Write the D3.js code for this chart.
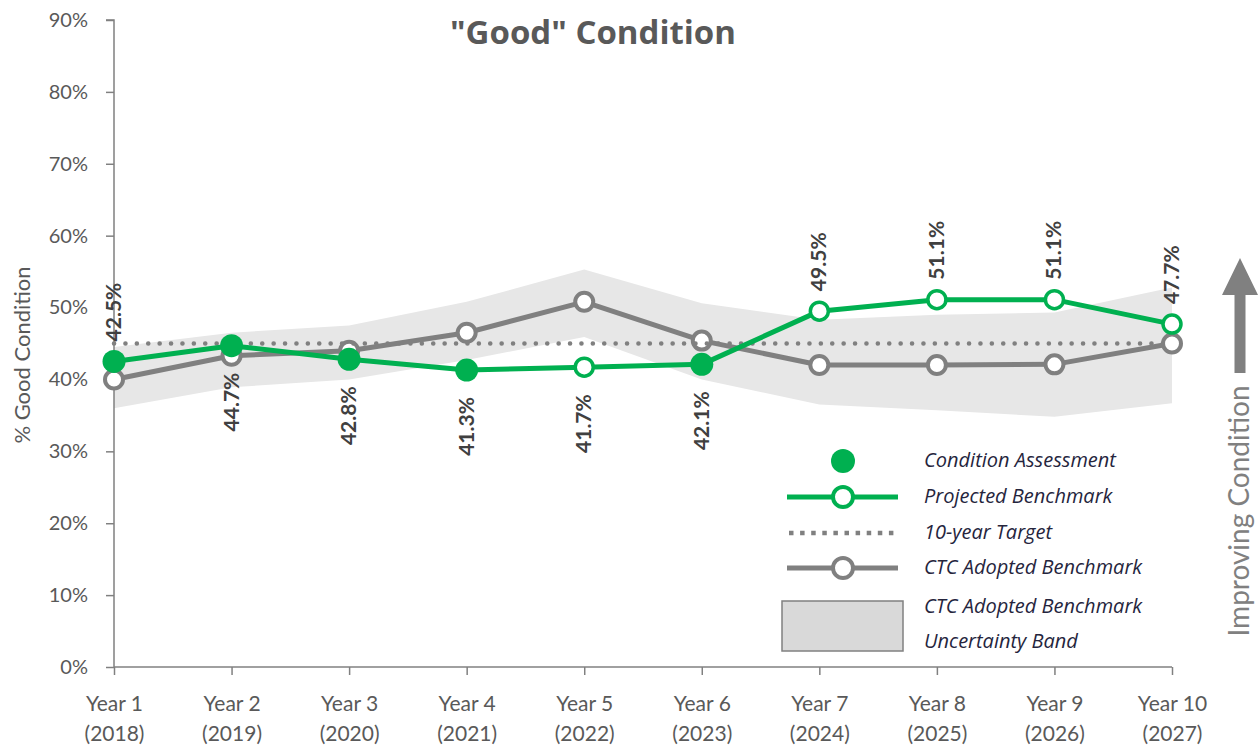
<!DOCTYPE html>
<html>
<head>
<meta charset="utf-8">
<script src="https://cdn.jsdelivr.net/npm/d3@7"></script>
<style>
  html, body { margin: 0; padding: 0; background: #fff; }
  svg { display: block; }
  text { font-family: Lato, "Open Sans", sans-serif; }
</style>
</head>
<body>
<svg id="chart" width="1260" height="747"></svg>
<script>
// ---------- data ----------
const yearLabels = ["Year 1","Year 2","Year 3","Year 4","Year 5","Year 6","Year 7","Year 8","Year 9","Year 10"];
const yearNumbers = ["(2018)","(2019)","(2020)","(2021)","(2022)","(2023)","(2024)","(2025)","(2026)","(2027)"];
const conditionAssessment = [42.5, 44.7, 42.8, 41.3, null, 42.1, null, null, null, null];
const projectedBenchmark = [42.5, 44.7, 42.8, 41.3, 41.7, 42.1, 49.5, 51.1, 51.1, 47.7];
const tenYearTarget = 45;
const ctcBenchmark = [40.0, 43.3, 44.0, 46.5, 50.8, 45.4, 42.0, 42.0, 42.1, 45.0];
const bandUpper = [44.5, 46.5, 47.5, 50.8, 55.3, 50.6, 48.3, 49.0, 49.3, 52.8];
const bandLower = [36.0, 38.9, 40.0, 42.7, 45.9, 40.0, 36.5, 35.7, 34.8, 36.7];
const yTicks = [0, 10, 20, 30, 40, 50, 60, 70, 80, 90];
const legendItems = ["Condition Assessment", "Projected Benchmark", "10-year Target", "CTC Adopted Benchmark"];
const legendBandLines = ["CTC Adopted Benchmark", "Uncertainty Band"];

// ---------- setup ----------
const GREEN = "#00b050", GRAY = "#808080", BAND = "#e7e7e7", TXT = "#595959";
const svg = d3.select("#chart");
const x = d3.scalePoint().domain(yearLabels).range([114, 1172]);
const y = d3.scaleLinear().domain([0, 90]).range([667, 20]);
const idx = yearLabels.map((d, i) => i);

// band
const area = d3.area()
  .x(i => x(yearLabels[i]))
  .y0(i => y(bandLower[i]))
  .y1(i => y(bandUpper[i]));
svg.append("path").datum(idx).attr("d", area).attr("fill", BAND);

// axes
const yAxis = d3.axisLeft(y).tickValues(yTicks).tickFormat(d => d + "%").tickSize(8).tickPadding(18);
const gy = svg.append("g").attr("transform", "translate(114,0)").call(yAxis);
gy.select(".domain").attr("stroke", GRAY).attr("stroke-width", 1.5).attr("d", `M-8,${y(90)}H0V${y(0)}`);
gy.selectAll(".tick line").attr("stroke", GRAY).attr("stroke-width", 1.5);
gy.selectAll(".tick text").attr("fill", TXT).style("font-size", "20px").style("font-family", "Lato, sans-serif");

const xAxis = d3.axisBottom(x).tickSize(8).tickFormat("");
const gx = svg.append("g").attr("transform", `translate(0,${y(0)})`).call(xAxis);
gx.select(".domain").attr("stroke", GRAY).attr("stroke-width", 1.5).attr("d", `M114,0H1172`);
gx.selectAll(".tick line").attr("stroke", GRAY).attr("stroke-width", 1.5);
const xl = gx.selectAll(".tick").append("text").attr("fill", TXT).attr("text-anchor", "middle")
  .style("font-size", "21px");
xl.append("tspan").attr("x", 0).attr("y", 44).text(d => d);
xl.append("tspan").attr("x", 0).attr("y", 74).text(d => yearNumbers[yearLabels.indexOf(d)]);

// CTC benchmark line
const lineOf = arr => d3.line().defined(i => arr[i] != null).x(i => x(yearLabels[i])).y(i => y(arr[i]));
svg.append("path").datum(idx).attr("d", lineOf(ctcBenchmark)).attr("fill", "none")
  .attr("stroke", GRAY).attr("stroke-width", 5).attr("stroke-linejoin", "round");
svg.selectAll(".ctc").data(idx).join("circle").attr("class", "ctc")
  .attr("cx", i => x(yearLabels[i])).attr("cy", i => y(ctcBenchmark[i])).attr("r", 9)
  .attr("fill", "#fff").attr("stroke", GRAY).attr("stroke-width", 4);

// target dotted line
svg.append("line").attr("x1", x(yearLabels[0])).attr("x2", x(yearLabels[9]))
  .attr("y1", y(tenYearTarget)).attr("y2", y(tenYearTarget))
  .attr("stroke", GRAY).attr("stroke-width", 4.5).attr("stroke-linecap", "round")
  .attr("stroke-dasharray", "0.1 11.3");

// projected benchmark (green)
svg.append("path").datum(idx).attr("d", lineOf(projectedBenchmark)).attr("fill", "none")
  .attr("stroke", GREEN).attr("stroke-width", 5).attr("stroke-linejoin", "round");
svg.selectAll(".proj").data(idx.filter(i => conditionAssessment[i] == null)).join("circle").attr("class", "proj")
  .attr("cx", i => x(yearLabels[i])).attr("cy", i => y(projectedBenchmark[i])).attr("r", 9)
  .attr("fill", "#fff").attr("stroke", GREEN).attr("stroke-width", 3.5);
svg.selectAll(".assess").data(idx.filter(i => conditionAssessment[i] != null)).join("circle").attr("class", "assess")
  .attr("cx", i => x(yearLabels[i])).attr("cy", i => y(conditionAssessment[i])).attr("r", 11.5)
  .attr("fill", GREEN);

// data labels (rotated)
const below = i => i >= 1 && i <= 5;
svg.selectAll(".lbl").data(idx).join("text").attr("class", "lbl")
  .attr("transform", i => {
    const px = x(yearLabels[i]) + 7, py = y(projectedBenchmark[i]);
    return `translate(${px},${below(i) ? py + 27 : py - 20}) rotate(-90)`;
  })
  .attr("text-anchor", i => below(i) ? "end" : "start")
  .attr("fill", "#404040").style("font-size", "21px").style("font-weight", "bold")
  .text(i => projectedBenchmark[i].toFixed(1) + "%");

// title
svg.append("text").attr("x", 593).attr("y", 44).attr("text-anchor", "middle")
  .attr("fill", TXT).style("font-size", "33px").style("font-weight", "bold")
  .style("font-family", "'Open Sans', sans-serif")
  .text('"Good" Condition');

// y axis title
svg.append("text").attr("transform", "translate(30,355) rotate(-90)").attr("text-anchor", "middle")
  .attr("fill", TXT).style("font-size", "22px").text("% Good Condition");

// improving condition arrow
svg.append("path").attr("d", "M1240,258 L1258,295 L1245.5,295 L1245.5,373 L1234.5,373 L1234.5,295 L1222,295 Z")
  .attr("fill", GRAY);
svg.append("text").attr("transform", "translate(1249,511) rotate(-90)").attr("text-anchor", "middle")
  .attr("fill", GRAY).style("font-size", "28px").text("Improving Condition");

// legend
const lg = svg.append("g");
const rowY = [461, 497, 533, 568];
const lx0 = 787, lx1 = 898, lxc = 843;
lg.append("circle").attr("cx", lxc).attr("cy", rowY[0]).attr("r", 12).attr("fill", GREEN);
lg.append("line").attr("x1", lx0).attr("x2", lx1).attr("y1", rowY[1]).attr("y2", rowY[1])
  .attr("stroke", GREEN).attr("stroke-width", 5);
lg.append("circle").attr("cx", lxc).attr("cy", rowY[1]).attr("r", 10).attr("fill", "#fff")
  .attr("stroke", GREEN).attr("stroke-width", 4);
lg.append("line").attr("x1", lx0 + 2).attr("x2", lx1).attr("y1", rowY[2]).attr("y2", rowY[2])
  .attr("stroke", GRAY).attr("stroke-width", 4.5).attr("stroke-dasharray", "4.5 6.6");
lg.append("line").attr("x1", lx0).attr("x2", lx1).attr("y1", rowY[3]).attr("y2", rowY[3])
  .attr("stroke", GRAY).attr("stroke-width", 5);
lg.append("circle").attr("cx", lxc).attr("cy", rowY[3]).attr("r", 10).attr("fill", "#fff")
  .attr("stroke", GRAY).attr("stroke-width", 4);
lg.append("rect").attr("x", 782).attr("y", 601).attr("width", 121).attr("height", 50)
  .attr("fill", "#d9d9d9").attr("stroke", GRAY).attr("stroke-width", 1.5);
const legendFont = "'Open Sans', sans-serif";
lg.selectAll(".lt").data(legendItems).join("text").attr("class", "lt")
  .attr("x", 924).attr("y", (d, i) => rowY[i] + 6)
  .attr("fill", "#25253d").style("font-size", "20px").style("font-style", "italic")
  .style("font-family", legendFont).text(d => d);
lg.selectAll(".lb").data(legendBandLines).join("text").attr("class", "lb")
  .attr("x", 924).attr("y", (d, i) => 613 + i * 35)
  .attr("fill", "#25253d").style("font-size", "20px").style("font-style", "italic")
  .style("font-family", legendFont).text(d => d);
</script>
</body>
</html>
